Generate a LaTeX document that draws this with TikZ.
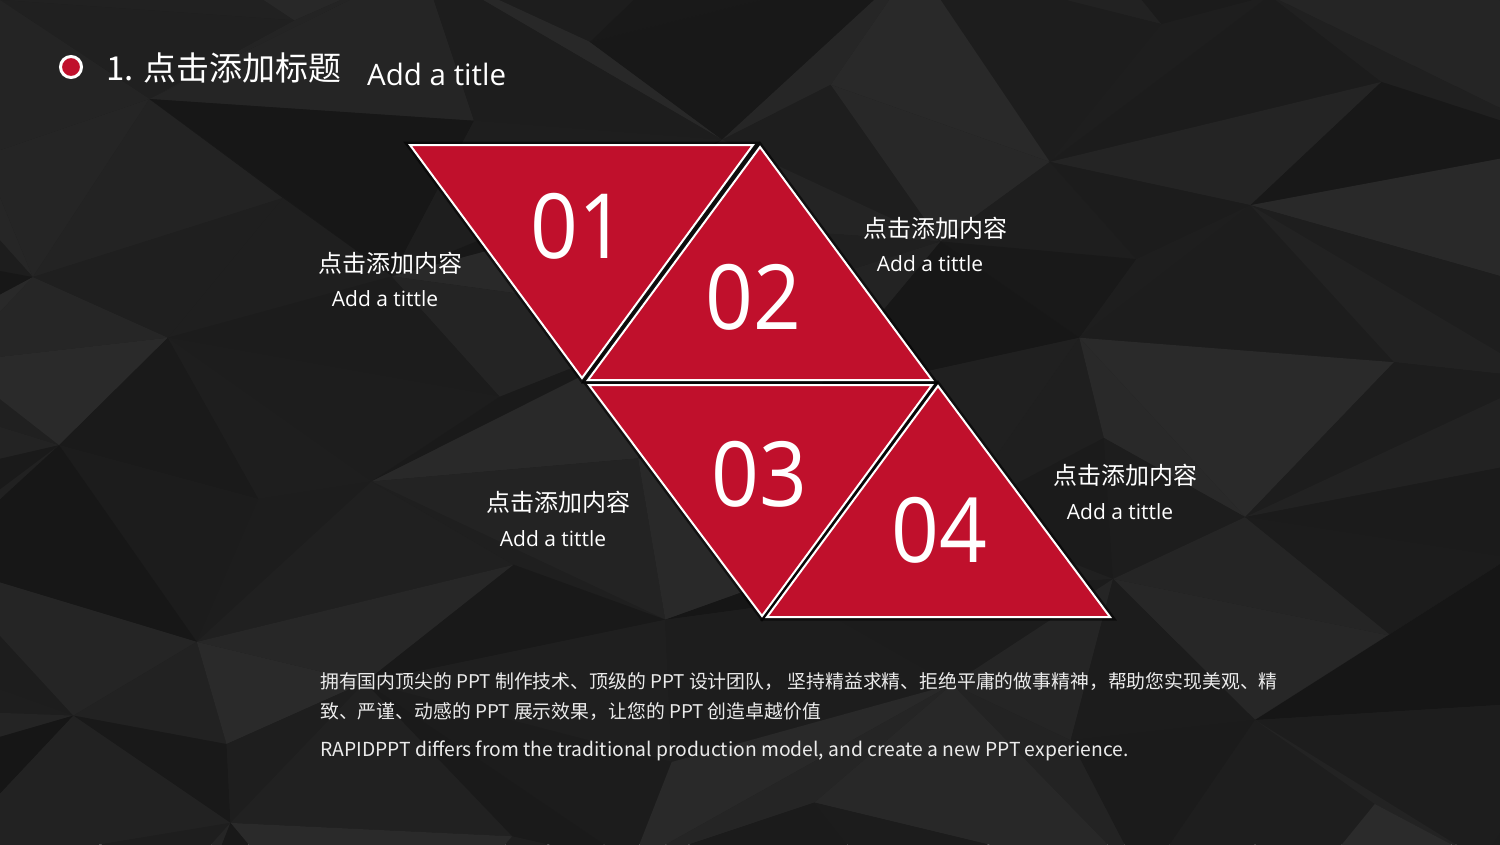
\documentclass[tikz,border=0pt]{standalone}
\usepackage{fontspec}
\setmainfont{Open Sans}
\newfontfamily\cjk{Noto Sans CJK SC}
\definecolor{redA}{HTML}{C0102C}
\definecolor{bgbase}{HTML}{1E1E1E}
\tikzset{
  tri/.style={fill=redA, draw=white, line width=2pt, line join=miter},
  trishadow/.style={draw=black, line width=7pt, opacity=0.55, line join=miter},
  num/.style={text=white, inner sep=0pt, font=\fontsize{90}{90}\selectfont},
  lblcn/.style={text=white, inner sep=0pt, font=\cjk\fontsize{24}{24}\selectfont},
  lblen/.style={text=white, inner sep=0pt, font=\fontsize{21}{21}\selectfont},
  body/.style={text=white!92!black, inner sep=0pt, anchor=west, font=\cjk\fontsize{18.85}{19}\selectfont},
}
\begin{document}
\begin{tikzpicture}[x=1pt,y=-1pt,
  declare function={px(\i,\j)=\i*220+75*sin(97*\i+193*\j);
                    py(\i,\j)=\j*120+42*sin(151*\i+59*\j);}]
\useasboundingbox (0,0) rectangle (1500,844);
% ---------- low-poly background ----------
\begin{scope}
\clip (0,0) rectangle (1500,844);
\fill[bgbase] (0,0) rectangle (1500,844);
\foreach \i in {-1,...,7}{
  \foreach \j in {-1,...,7}{
    \pgfmathtruncatemacro\ip{\i+1}
    \pgfmathtruncatemacro\jp{\j+1}
    \pgfmathsetmacro\ga{12.5+2.6*sin(71*\i+157*\j)+1.6*sin(211*\i+37*\j)}
    \pgfmathsetmacro\gb{12.5+2.6*sin(113*\i+61*\j+40)+1.6*sin(29*\i+233*\j)}
    \pgfmathtruncatemacro\prty{mod(\i+\j+20,2)}
    \ifnum\prty=0
      \fill[white!\ga!black] ({px(\i,\j)},{py(\i,\j)}) -- ({px(\ip,\j)},{py(\ip,\j)}) -- ({px(\ip,\jp)},{py(\ip,\jp)}) -- cycle;
      \fill[white!\gb!black] ({px(\i,\j)},{py(\i,\j)}) -- ({px(\ip,\jp)},{py(\ip,\jp)}) -- ({px(\i,\jp)},{py(\i,\jp)}) -- cycle;
    \else
      \fill[white!\ga!black] ({px(\i,\j)},{py(\i,\j)}) -- ({px(\ip,\j)},{py(\ip,\j)}) -- ({px(\i,\jp)},{py(\i,\jp)}) -- cycle;
      \fill[white!\gb!black] ({px(\ip,\j)},{py(\ip,\j)}) -- ({px(\ip,\jp)},{py(\ip,\jp)}) -- ({px(\i,\jp)},{py(\i,\jp)}) -- cycle;
    \fi
  }
}
\end{scope}
% ---------- header ----------
\draw[white, line width=3pt, fill=redA] (71,67) circle (10.5);
\node[text=white, inner sep=0pt, anchor=west, font=\cjk\fontsize{33}{33}\selectfont] (title) at (106,68) {1. 点击添加标题};
\node[text=white, inner sep=0pt, anchor=west, font=\fontsize{29.5}{29.5}\selectfont] (titleen) at (367,74) {Add a title};
% ---------- triangles ----------
\coordinate (a1) at (410,145); \coordinate (b1) at (753,145); \coordinate (c1) at (582,378);
\coordinate (a2) at (760,147); \coordinate (b2) at (588,380); \coordinate (c2) at (932,380);
\coordinate (a3) at (589,385); \coordinate (b3) at (932,385); \coordinate (c3) at (762,616);
\coordinate (a4) at (938,386); \coordinate (b4) at (767,617); \coordinate (c4) at (1110,617);
\draw[trishadow] (a1) -- (b1) -- (c1) -- cycle;
\draw[trishadow] (a2) -- (b2) -- (c2) -- cycle;
\draw[trishadow] (a3) -- (b3) -- (c3) -- cycle;
\draw[trishadow] (a4) -- (b4) -- (c4) -- cycle;
\draw[tri] (a1) -- (b1) -- (c1) -- cycle;
\draw[tri] (a2) -- (b2) -- (c2) -- cycle;
\draw[tri] (a3) -- (b3) -- (c3) -- cycle;
\draw[tri] (a4) -- (b4) -- (c4) -- cycle;
\node[num] (n1) at (578,226) {\scalebox{0.93}[1]{01}};
\node[num] (n2) at (753,297) {\scalebox{0.93}[1]{02}};
\node[num] (n3) at (759,474) {\scalebox{0.93}[1]{03}};
\node[num] (n4) at (939,530) {\scalebox{0.93}[1]{04}};
% ---------- labels ----------
\node[lblcn] (l1a) at (390,263) {点击添加内容};
\node[lblen] (l1b) at (385,299) {Add a tittle};
\node[lblcn] (l2a) at (935,228) {点击添加内容};
\node[lblen] (l2b) at (930,264) {Add a tittle};
\node[lblcn] (l3a) at (558,502) {点击添加内容};
\node[lblen] (l3b) at (553,539) {Add a tittle};
\node[lblcn] (l4a) at (1125,475) {点击添加内容};
\node[lblen] (l4b) at (1120,512) {Add a tittle};
% ---------- body ----------
\node[body] (p1) at (320,681) {拥有国内顶尖的 PPT 制作技术、顶级的 PPT 设计团队， 坚持精益求精、拒绝平庸的做事精神，帮助您实现美观、精};
\node[body] (p2) at (320,712) {致、严谨、动感的 PPT 展示效果，让您的 PPT 创造卓越价值};
\node[body, font=\cjk\fontsize{19.3}{19.3}\selectfont] (p3) at (320,751) {RAPIDPPT differs from the traditional production model, and create a new PPT experience.};
\end{tikzpicture}
\end{document}
